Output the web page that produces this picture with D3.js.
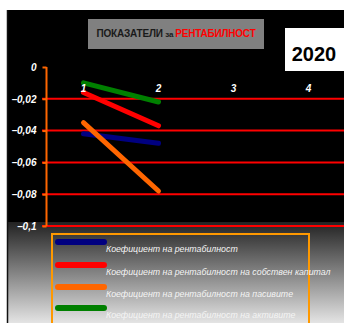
<!DOCTYPE html>
<html><head><meta charset="utf-8">
<script src="https://cdn.jsdelivr.net/npm/d3@7"></script>
<style>html,body{margin:0;padding:0;background:#fff;}svg{display:block;}</style>
</head><body>
<svg id="c" width="344" height="323"></svg>
<script>
const categories = ["1", "2", "3", "4"];
const seriesNames = [
  "Коефициент на рентабилност",
  "Коефициент на рентабилност на собствен капитал",
  "Коефициент на рентабилност на пасивите",
  "Коефициент на рентабилност на активите"
];
const seriesColors = ["#000080", "#ff0000", "#ff6600", "#008000"];
const blueValues = [-0.042, -0.048];
const redValues = [-0.016, -0.037];
const orangeValues = [-0.035, -0.078];
const greenValues = [-0.010, -0.022];
const yTicks = [0, -0.02, -0.04, -0.06, -0.08, -0.1];
const titleDark = "ПОКАЗАТЕЛИ ";
const titleSmall = "за ";
const titleRed = "РЕНТАБИЛНОСТ";
const yearLabel = "2020";

const series = [blueValues, redValues, orangeValues, greenValues];

const svg = d3.select("#c");
const defs = svg.append("defs");
const grad = defs.append("linearGradient").attr("id","bg").attr("x1",0).attr("y1",0).attr("x2",0).attr("y2",1);
grad.append("stop").attr("offset","0%").attr("stop-color","#222");
grad.append("stop").attr("offset","100%").attr("stop-color","#e4e4e4");

// outer chart area
svg.append("rect").attr("x",7).attr("y",10).attr("width",340).attr("height",212).attr("fill","#000");
svg.append("rect").attr("x",7).attr("y",222).attr("width",340).attr("height",101).attr("fill","url(#bg)");
svg.append("line").attr("x1",7.5).attr("x2",7.5).attr("y1",10).attr("y2",323).attr("stroke","#111").attr("stroke-width",1.5);

const x = d3.scalePoint().domain(categories).range([46, 346]).padding(0.5);
const y = d3.scaleLinear().domain([-0.1, 0]).range([226, 67]);

// gridlines
svg.append("g").selectAll("line").data(yTicks.filter(d => d !== 0)).join("line")
  .attr("x1", 42).attr("x2", 344)
  .attr("y1", d => y(d)).attr("y2", d => y(d))
  .attr("stroke", "#ff0000").attr("stroke-width", 2);

// y axis
const yAxis = d3.axisLeft(y).tickValues(yTicks).tickSize(4).tickPadding(6)
  .tickFormat(d => d === 0 ? "0" : d3.format(".2~f")(d).replace(".", ","));
const ya = svg.append("g").attr("transform", "translate(46.5,0)").call(yAxis);
ya.select(".domain").attr("stroke", "#ff6600").attr("stroke-width", 2).attr("d", `M0,${y(0)}V${y(-0.1)}`);
ya.selectAll(".tick line").attr("stroke", "#ff6600").attr("stroke-width", 2);
ya.selectAll(".tick text").attr("fill", "#fff").attr("font-family", "Liberation Sans, Arial, sans-serif")
  .attr("font-size", 10).attr("font-weight", "bold").attr("font-style", "italic");

// lines
const line = d3.line().x((d, i) => x(categories[i])).y(d => y(d));
svg.append("g").selectAll("path").data(series).join("path")
  .attr("d", d => line(d)).attr("fill", "none")
  .attr("stroke", (d, i) => seriesColors[i]).attr("stroke-width", 5)
  .attr("stroke-linecap", "round").attr("stroke-linejoin", "round");

// category labels
svg.append("g").selectAll("text").data(categories).join("text")
  .attr("x", d => x(d)).attr("y", 91.5).attr("text-anchor", "middle")
  .attr("fill", "#fff").attr("font-family", "Liberation Sans, Arial, sans-serif")
  .attr("font-size", 10).attr("font-weight", "bold").attr("font-style", "italic")
  .text(d => d);

// title
svg.append("rect").attr("x", 88).attr("y", 19).attr("width", 176).attr("height", 30).attr("fill", "#808080");
const tt = svg.append("text").attr("x", 176).attr("y", 36.5).attr("text-anchor", "middle")
  .attr("font-family", "Liberation Sans, Arial, sans-serif").attr("font-weight", "bold").attr("font-size", 10)
  .attr("letter-spacing", -0.2);
tt.append("tspan").attr("fill", "#1a1a1a").text(titleDark);
tt.append("tspan").attr("fill", "#1a1a1a").attr("font-size", 8).text(titleSmall);
tt.append("tspan").attr("fill", "#ff0000").text(titleRed);

// year box
svg.append("rect").attr("x", 285).attr("y", 28).attr("width", 60).attr("height", 43).attr("fill", "#fff");
svg.append("text").attr("x", 314).attr("y", 61).attr("text-anchor", "middle")
  .attr("font-family", "Liberation Sans, Arial, sans-serif").attr("font-weight", "bold").attr("font-size", 20)
  .attr("fill", "#000").text(yearLabel);

// legend
svg.append("rect").attr("x", 52).attr("y", 234).attr("width", 257).attr("height", 100)
  .attr("fill", "none").attr("stroke", "#ff9900").attr("stroke-width", 2);
const lg = svg.append("g").selectAll("g").data(seriesNames).join("g")
  .attr("transform", (d, i) => `translate(0,${[242, 265, 287, 308][i]})`);
lg.append("line").attr("x1", 58).attr("x2", 104).attr("y1", 0).attr("y2", 0)
  .attr("stroke", (d, i) => seriesColors[i]).attr("stroke-width", 6).attr("stroke-linecap", "round");
lg.append("text").attr("x", 106).attr("y", 10)
  .attr("fill", "#f4f4f4").attr("font-family", "Liberation Sans, Arial, sans-serif")
  .attr("font-size", 8.8).attr("font-style", "italic")
  .text(d => d);
</script>
</body></html>
